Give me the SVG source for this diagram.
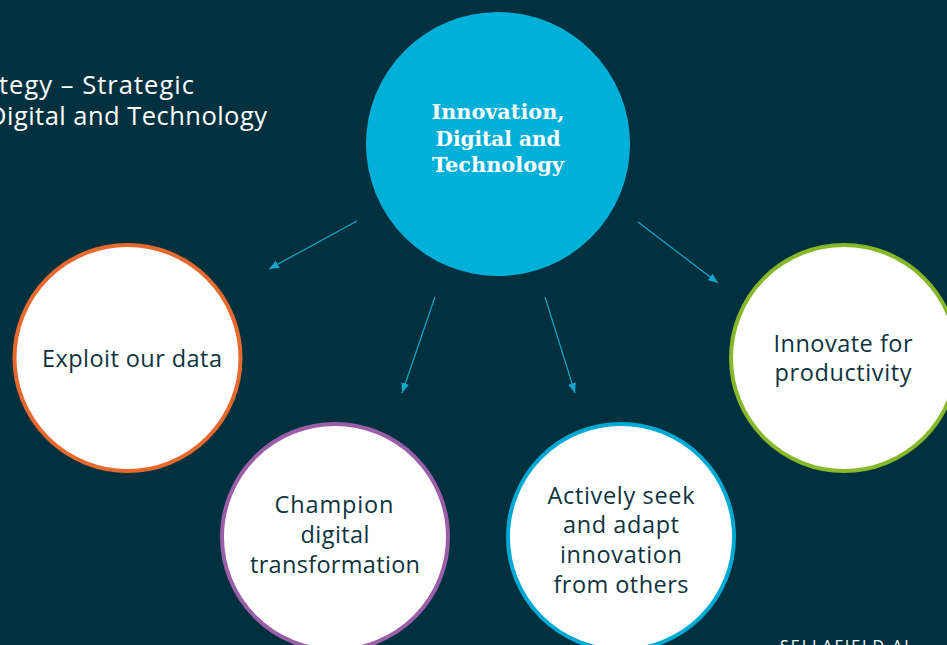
<svg xmlns="http://www.w3.org/2000/svg" width="947" height="645" viewBox="0 0 947 645">
<defs>
<style>
.bg{fill:#01313F}
.node{fill:#ffffff;stroke-width:4}
.lbl{font-family:"Open Sans",Lato,"Noto Sans",sans-serif;font-size:23.5px;fill:#0D3340;text-anchor:middle}
.hub{font-family:"DejaVu Serif","Liberation Serif",serif;font-weight:bold;font-stretch:condensed;font-size:20px;fill:#ffffff;text-anchor:middle}
.conn line{stroke:#12A6CB;stroke-width:1.2;marker-end:url(#ah)}
.title{font-family:"Open Sans",Lato,"Noto Sans",sans-serif;font-size:25.5px;fill:#ffffff}
</style>
<marker id="ah" viewBox="0 0 10 10" refX="10" refY="5" markerWidth="10" markerHeight="10" markerUnits="userSpaceOnUse" orient="auto">
<path d="M0,1 L10,5 L0,9 z" fill="#12A6CB"/>
</marker>
</defs>
<rect class="bg" x="0" y="0" width="947" height="645"/>
<g id="title">
<text class="title" x="-1" y="94" textLength="195" lengthAdjust="spacing">tegy – Strategic</text>
<text class="title" x="-12" y="125" textLength="279" lengthAdjust="spacing">Digital and Technology</text>
</g>
<g id="connectors" class="conn">
<line x1="357" y1="221" x2="269" y2="269"/>
<line x1="435" y1="297" x2="402" y2="393"/>
<line x1="545" y1="297" x2="575" y2="393"/>
<line x1="638" y1="222" x2="718" y2="283"/>
</g>
<g id="hub">
<circle cx="498" cy="144" r="132" fill="#00B0D8"/>
<text class="hub" x="498" y="119" textLength="133" lengthAdjust="spacingAndGlyphs">Innovation,</text>
<text class="hub" x="498" y="146" textLength="125" lengthAdjust="spacingAndGlyphs">Digital and</text>
<text class="hub" x="498" y="172" textLength="132" lengthAdjust="spacingAndGlyphs">Technology</text>
</g>
<g id="exploit">
<circle class="node" cx="127.5" cy="358" r="113" stroke="#E8692E"/>
<text class="lbl" x="132" y="367" textLength="180" lengthAdjust="spacing">Exploit our data</text>
</g>
<g id="champion">
<circle class="node" cx="335" cy="537" r="113" stroke="#9A5FA6"/>
<text class="lbl" x="334" y="513" textLength="119" lengthAdjust="spacing">Champion</text>
<text class="lbl" x="335" y="543" textLength="69" lengthAdjust="spacing">digital</text>
<text class="lbl" x="335" y="573" textLength="170" lengthAdjust="spacing">transformation</text>
</g>
<g id="actively">
<circle class="node" cx="621" cy="537" r="113" stroke="#00A9D4"/>
<text class="lbl" x="621" y="504" textLength="147" lengthAdjust="spacing">Actively seek</text>
<text class="lbl" x="621" y="533" textLength="116" lengthAdjust="spacing">and adapt</text>
<text class="lbl" x="621" y="563" textLength="122" lengthAdjust="spacing">innovation</text>
<text class="lbl" x="621" y="593" textLength="135" lengthAdjust="spacing">from others</text>
</g>
<g id="innovate">
<circle class="node" cx="844" cy="358" r="113" stroke="#86B82A"/>
<text class="lbl" x="843" y="352" textLength="139" lengthAdjust="spacing">Innovate for</text>
<text class="lbl" x="843" y="381" textLength="137" lengthAdjust="spacing">productivity</text>
</g>
<g id="footer">
<text x="780" y="652" style="font-family:'Open Sans',Lato,sans-serif;font-size:16px;fill:#ffffff;letter-spacing:2px">SELLAFIELD AL</text>
</g>
</svg>
